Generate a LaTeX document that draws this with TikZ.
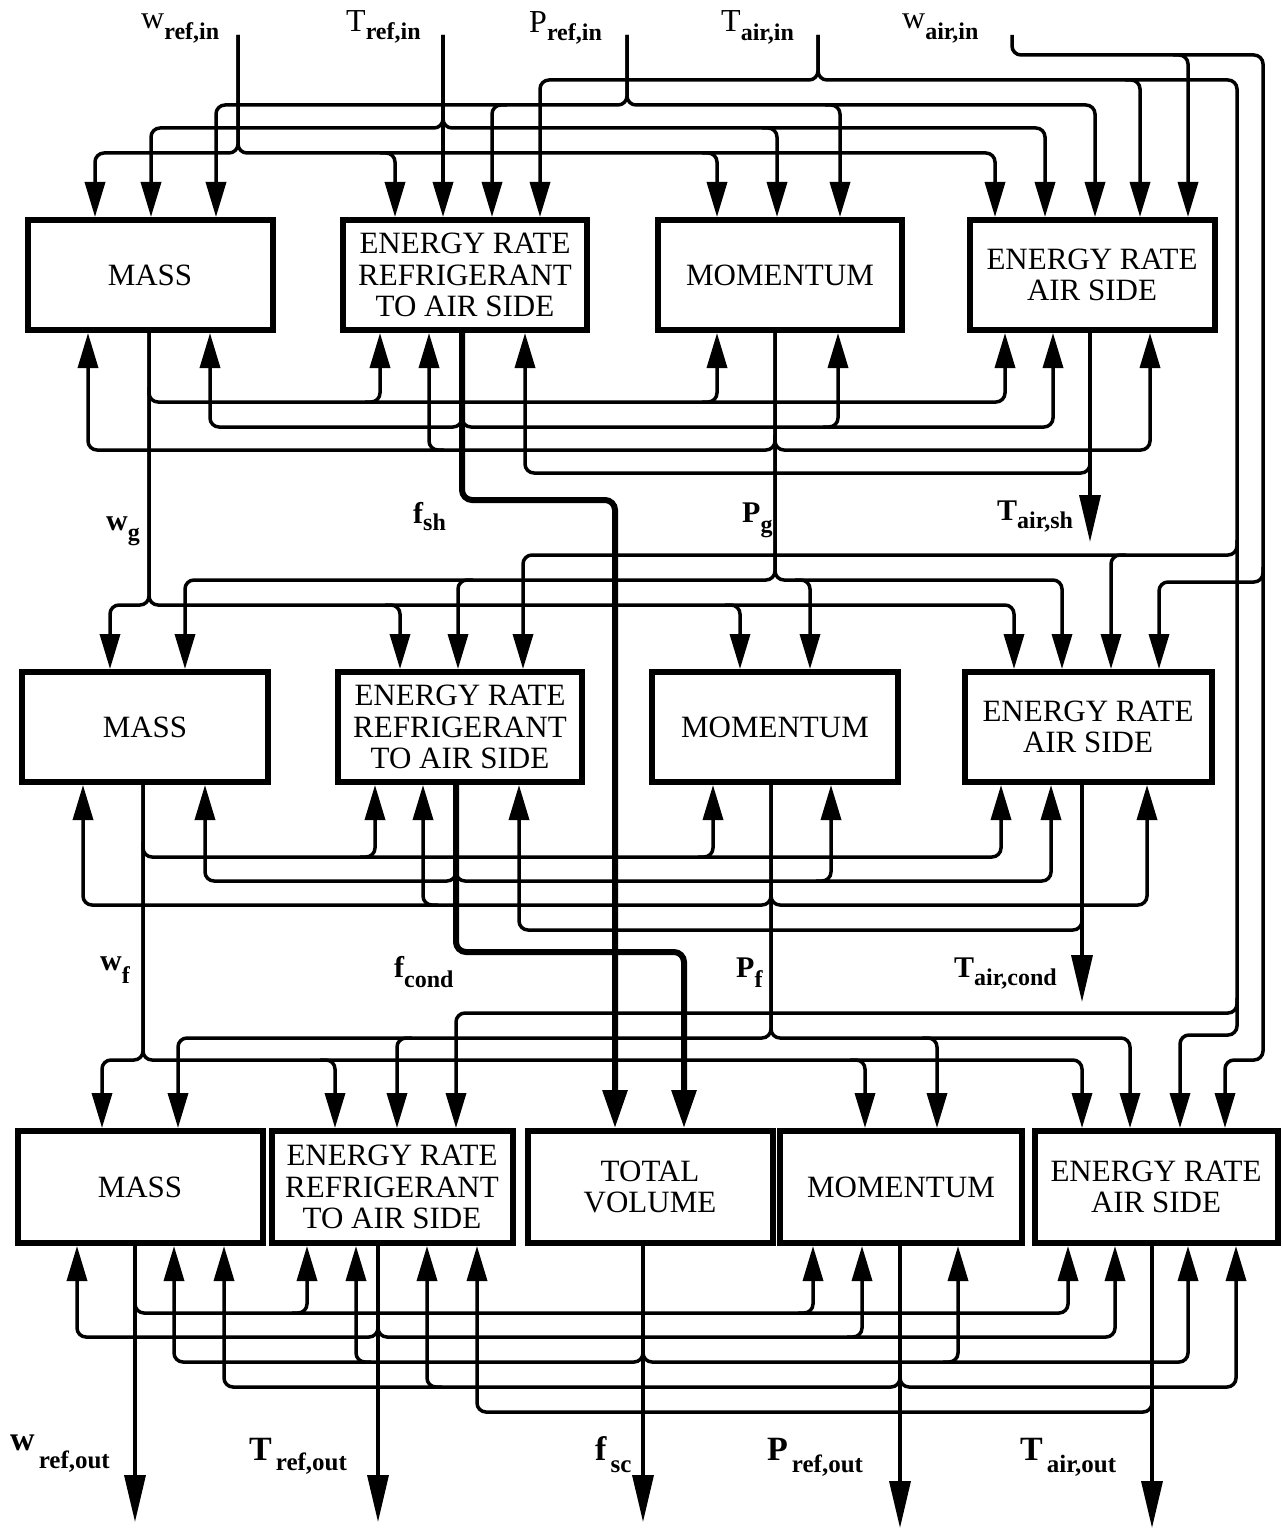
\documentclass[tikz,border=0pt]{standalone}
\usepackage{fontspec}
\setmainfont{Liberation Serif}
\usetikzlibrary{arrows.meta}
\newcommand{\toplab}[3]{{\fontsize{32}{32}\selectfont #1}\raisebox{-#3}{\bfseries\fontsize{24}{24}\selectfont #2}}
\newcommand{\midlab}[3]{{\bfseries\fontsize{30}{30}\selectfont #1}\raisebox{-#3}{\bfseries\fontsize{24}{24}\selectfont #2}}
\newcommand{\botlab}[3]{{\bfseries\fontsize{34}{34}\selectfont #1}\hspace{4pt}\raisebox{-#3}{\bfseries\fontsize{25}{25}\selectfont #2}}
\begin{document}
\begin{tikzpicture}[x=1pt,y=-1pt,
  blk/.style={draw,line width=6pt,minimum width=#1,minimum height=110pt,align=center,inner sep=0pt,font=\fontsize{31}{31.5}\selectfont},
  wire/.style={line width=3.5pt,rounded corners=9pt},
  fatwire/.style={line width=6pt,rounded corners=10pt},
  arr/.style={-{Triangle[length=35pt,width=20pt]}},
  arrtwo/.style={-{Triangle[length=38pt,width=24pt]}},
  bigarr/.style={-{Triangle[length=47pt,width=21pt]}},
  lab/.style={anchor=base west,inner sep=0pt}]
\useasboundingbox (0,0) rectangle (1282,1530);
% ---------- boxes ----------
\node[blk=245pt] (mass1) at (150,275) {MASS};
\node[blk=244pt] (err1) at (465,275) {ENERGY RATE\\REFRIGERANT\\TO AIR SIDE};
\node[blk=244pt] (mom1) at (780,275) {MOMENTUM};
\node[blk=245pt] (era1) at (1092,275) {ENERGY RATE\\AIR SIDE};
\node[blk=246pt] (mass2) at (145,727) {MASS};
\node[blk=244pt] (err2) at (460,727) {ENERGY RATE\\REFRIGERANT\\TO AIR SIDE};
\node[blk=246pt] (mom2) at (775,727) {MOMENTUM};
\node[blk=247pt] (era2) at (1088,727) {ENERGY RATE\\AIR SIDE};
\node[blk=245pt,minimum height=112pt] (mass3) at (140,1187) {MASS};
\node[blk=241pt,minimum height=112pt] (err3) at (392,1187) {ENERGY RATE\\REFRIGERANT\\TO AIR SIDE};
\node[blk=245pt,minimum height=112pt] (total) at (650,1187) {TOTAL\\VOLUME};
\node[blk=242pt,minimum height=112pt] (mom3) at (901,1187) {MOMENTUM};
\node[blk=243pt,minimum height=112pt] (era3) at (1156,1187) {ENERGY RATE\\AIR SIDE};
% ---------- labels ----------
\node[lab] (lwrefin) at (141,29) {\toplab{w}{ref,in}{11pt}};
\node[lab] (ltrefin) at (346,32) {\toplab{T}{ref,in}{8pt}};
\node[lab] (lprefin) at (529,33) {\toplab{P}{ref,in}{8pt}};
\node[lab] (ltairin) at (721,32) {\toplab{T}{air,in}{9pt}};
\node[lab] (lwairin) at (902,29) {\toplab{w}{air,in}{11pt}};
\node[lab] (lwg) at (106,530) {\midlab{w}{g}{10pt}};
\node[lab] (lfsh) at (413,523) {\midlab{f}{sh}{7pt}};
\node[lab] (lpg) at (742,522) {\midlab{P}{g}{10pt}};
\node[lab] (ltairsh) at (997,520) {\midlab{T}{air,sh}{8pt}};
\node[lab] (lwf) at (100,970) {\midlab{w}{f}{13pt}};
\node[lab] (lfcond) at (394,977) {\midlab{f}{cond}{10pt}};
\node[lab] (lpf) at (736,977) {\midlab{P}{f}{10pt}};
\node[lab] (ltaircond) at (954,977) {\midlab{T}{air,cond}{8pt}};
\node[lab] (lwrefout) at (10,1450) {\botlab{w}{ref,out}{18pt}};
\node[lab] (ltrefout) at (249,1460) {\botlab{T}{ref,out}{10pt}};
\node[lab] (lfsc) at (595,1460) {\botlab{f}{sc}{12pt}};
\node[lab] (lprefout) at (767,1460) {\botlab{P}{ref,out}{12pt}};
\node[lab] (ltairout) at (1020,1460) {\botlab{T}{air,out}{12pt}};
% ---------- row 1 inputs ----------
% w_ref,in
\draw[wire,arr] (238,35) -- (238,153) -- (95,153) -- (95,0 |- mass1.north);
\draw[wire,arr] (238,35) -- (238,153) -- (995,153) -- (995,0 |- era1.north);
\draw[wire,arr] (380,153) -- (395,153) -- (395,0 |- err1.north);
\draw[wire,arr] (702,153) -- (717,153) -- (717,0 |- mom1.north);
% T_ref,in
\draw[wire,arr] (443,35) -- (443,0 |- err1.north);
\draw[wire,arr] (443,35) -- (443,128) -- (151,128) -- (151,0 |- mass1.north);
\draw[wire,arr] (443,35) -- (443,128) -- (1045,128) -- (1045,0 |- era1.north);
\draw[wire,arr] (762,128) -- (777,128) -- (777,0 |- mom1.north);
% P_ref,in
\draw[wire,arr] (627,35) -- (627,105) -- (216,105) -- (216,0 |- mass1.north);
\draw[wire,arr] (627,35) -- (627,105) -- (1095,105) -- (1095,0 |- era1.north);
\draw[wire,arr] (507,105) -- (492,105) -- (492,0 |- err1.north);
\draw[wire,arr] (825,105) -- (840,105) -- (840,0 |- mom1.north);
% T_air,in
\draw[wire,arr] (818,35) -- (818,80) -- (540,80) -- (540,0 |- err1.north);
\draw[wire,arr] (818,35) -- (818,80) -- (1237,80) -- (1237,1035) -- (1180,1035) -- (1180,0 |- era3.north);
\draw[wire,arr] (1125,80) -- (1140,80) -- (1140,0 |- era1.north);
\draw[wire,arr] (1237,540) -- (1237,555) -- (523,555) -- (523,0 |- err2.north);
\draw[wire,arr] (1126,555) -- (1111,555) -- (1111,0 |- era2.north);
\draw[wire,arr] (1237,998) -- (1237,1013) -- (456,1013) -- (456,0 |- err3.north);
% w_air,in
\draw[wire,arr] (1012,35) -- (1012,55) -- (1263,55) -- (1263,1060) -- (1225,1060) -- (1225,0 |- era3.north);
\draw[wire,arr] (1173,55) -- (1188,55) -- (1188,0 |- era1.north);
\draw[wire,arr] (1263,567) -- (1263,582) -- (1159,582) -- (1159,0 |- era2.north);
% ---------- row 1 outputs ----------
% w_g
\draw[wire,arr] (149,0 |- mass1.south) -- (149,605) -- (110,605) -- (110,0 |- mass2.north);
\draw[wire,arr] (149,0 |- mass1.south) -- (149,605) -- (1014,605) -- (1014,0 |- era2.north);
\draw[wire,arr] (385,605) -- (400,605) -- (400,0 |- err2.north);
\draw[wire,arr] (725,605) -- (740,605) -- (740,0 |- mom2.north);
\draw[wire,arr] (149,387) -- (149,402) -- (1005,402) -- (1005,0 |- era1.south);
\draw[wire,arr] (365,402) -- (380,402) -- (380,0 |- err1.south);
\draw[wire,arr] (702,402) -- (717,402) -- (717,0 |- mom1.south);
% f_sh
\draw[fatwire,arrtwo] (462,0 |- err1.south) -- (462,500) -- (615,500) -- (615,0 |- total.north);
\draw[wire,arr] (462,412) -- (462,427) -- (210,427) -- (210,0 |- mass1.south);
\draw[wire,arr] (462,412) -- (462,427) -- (1053,427) -- (1053,0 |- era1.south);
\draw[wire,arr] (823,427) -- (838,427) -- (838,0 |- mom1.south);
% P_g
\draw[wire,arr] (775,0 |- mom1.south) -- (775,580) -- (185,580) -- (185,0 |- mass2.north);
\draw[wire,arr] (775,0 |- mom1.south) -- (775,580) -- (1062,580) -- (1062,0 |- era2.north);
\draw[wire,arr] (473,580) -- (458,580) -- (458,0 |- err2.north);
\draw[wire,arr] (795,580) -- (810,580) -- (810,0 |- mom2.north);
\draw[wire,arr] (775,435) -- (775,450) -- (88,450) -- (88,0 |- mass1.south);
\draw[wire,arr] (775,435) -- (775,450) -- (1150,450) -- (1150,0 |- era1.south);
\draw[wire,arr] (444,450) -- (429,450) -- (429,0 |- err1.south);
% T_air,sh
\draw[wire,bigarr] (1090,0 |- era1.south) -- (1090,542);
\draw[wire,arr] (1090,458) -- (1090,473) -- (525,473) -- (525,0 |- err1.south);
% ---------- row 2 outputs ----------
% w_f
\draw[wire,arr] (143,0 |- mass2.south) -- (143,1060) -- (102,1060) -- (102,0 |- mass3.north);
\draw[wire,arr] (143,0 |- mass2.south) -- (143,1060) -- (1082,1060) -- (1082,0 |- era3.north);
\draw[wire,arr] (320,1060) -- (335,1060) -- (335,0 |- err3.north);
\draw[wire,arr] (850,1060) -- (865,1060) -- (865,0 |- mom3.north);
\draw[wire,arr] (143,842) -- (143,857) -- (1001,857) -- (1001,0 |- era2.south);
\draw[wire,arr] (360,857) -- (375,857) -- (375,0 |- err2.south);
\draw[wire,arr] (698,857) -- (713,857) -- (713,0 |- mom2.south);
% f_cond
\draw[fatwire,arrtwo] (456,0 |- err2.south) -- (456,952) -- (684,952) -- (684,0 |- total.north);
\draw[wire,arr] (456,866) -- (456,881) -- (205,881) -- (205,0 |- mass2.south);
\draw[wire,arr] (456,866) -- (456,881) -- (1051,881) -- (1051,0 |- era2.south);
\draw[wire,arr] (816,881) -- (831,881) -- (831,0 |- mom2.south);
% P_f
\draw[wire,arr] (771,0 |- mom2.south) -- (771,1038) -- (178,1038) -- (178,0 |- mass3.north);
\draw[wire,arr] (771,0 |- mom2.south) -- (771,1038) -- (1130,1038) -- (1130,0 |- era3.north);
\draw[wire,arr] (412,1038) -- (397,1038) -- (397,0 |- err3.north);
\draw[wire,arr] (922,1038) -- (937,1038) -- (937,0 |- mom3.north);
\draw[wire,arr] (771,890) -- (771,905) -- (83,905) -- (83,0 |- mass2.south);
\draw[wire,arr] (771,890) -- (771,905) -- (1147,905) -- (1147,0 |- era2.south);
\draw[wire,arr] (438,905) -- (423,905) -- (423,0 |- err2.south);
% T_air,cond
\draw[wire,bigarr] (1082,0 |- era2.south) -- (1082,1002);
\draw[wire,arr] (1082,915) -- (1082,930) -- (519,930) -- (519,0 |- err2.south);
% ---------- row 3 outputs ----------
% w_ref,out
\draw[wire,bigarr] (135,0 |- mass3.south) -- (135,1522);
\draw[wire,arr] (135,1298) -- (135,1313) -- (1068,1313) -- (1068,0 |- era3.south);
\draw[wire,arr] (292,1313) -- (307,1313) -- (307,0 |- err3.south);
\draw[wire,arr] (798,1313) -- (813,1313) -- (813,0 |- mom3.south);
% T_ref,out
\draw[wire,bigarr] (378,0 |- err3.south) -- (378,1522);
\draw[wire,arr] (378,1322) -- (378,1337) -- (77,1337) -- (77,0 |- mass3.south);
\draw[wire,arr] (378,1322) -- (378,1337) -- (1115,1337) -- (1115,0 |- era3.south);
\draw[wire,arr] (847,1337) -- (862,1337) -- (862,0 |- mom3.south);
% f_sc
\draw[wire,bigarr] (643,0 |- total.south) -- (643,1522);
\draw[wire,arr] (643,1347) -- (643,1362) -- (174,1362) -- (174,0 |- mass3.south);
\draw[wire,arr] (643,1347) -- (643,1362) -- (1188,1362) -- (1188,0 |- era3.south);
\draw[wire,arr] (371,1362) -- (356,1362) -- (356,0 |- err3.south);
\draw[wire,arr] (943,1362) -- (958,1362) -- (958,0 |- mom3.south);
% P_ref,out
\draw[wire,bigarr] (900,0 |- mom3.south) -- (900,1528);
\draw[wire,arr] (900,1372) -- (900,1387) -- (224,1387) -- (224,0 |- mass3.south);
\draw[wire,arr] (900,1372) -- (900,1387) -- (1236,1387) -- (1236,0 |- era3.south);
\draw[wire,arr] (442,1387) -- (427,1387) -- (427,0 |- err3.south);
% T_air,out
\draw[wire,bigarr] (1152,0 |- era3.south) -- (1152,1528);
\draw[wire,arr] (1152,1397) -- (1152,1412) -- (477,1412) -- (477,0 |- err3.south);
\end{tikzpicture}
\end{document}
